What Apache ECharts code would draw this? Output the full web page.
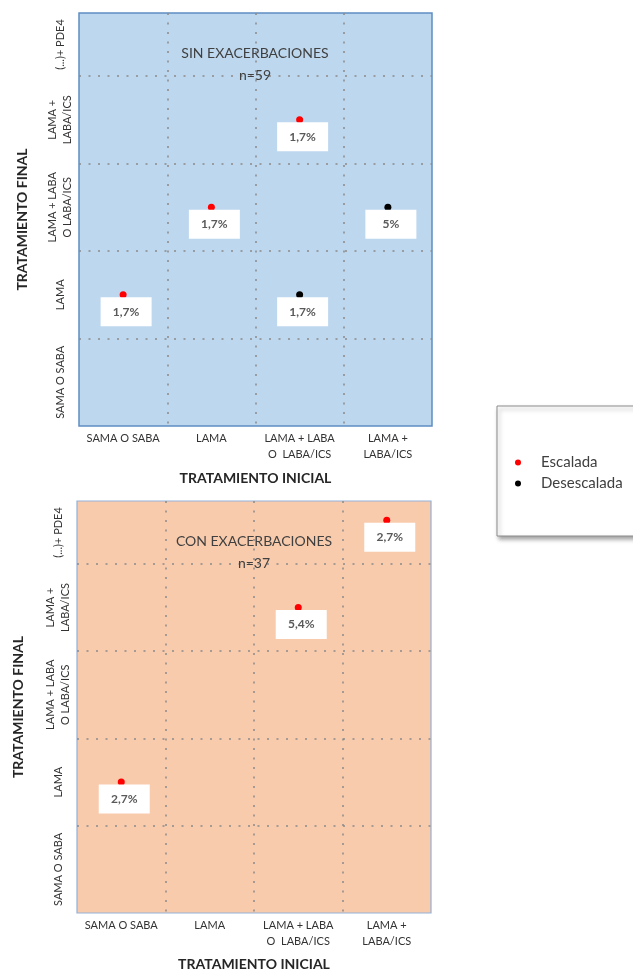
<!DOCTYPE html>
<html>
<head>
<meta charset="utf-8">
<script src="https://cdn.jsdelivr.net/npm/echarts@6/dist/echarts.min.js"></script>
<style>
html,body{margin:0;padding:0;background:#fff;}
#c{width:633px;height:972px;}
</style>
</head>
<body>
<div id="c"></div>
<script>
// Categories
var initialCats = ['SAMA O SABA', 'LAMA', 'LAMA + LABA\nO  LABA/ICS', 'LAMA +\nLABA/ICS'];
var finalCats = ['SAMA O SABA', 'LAMA', 'LAMA + LABA\nO LABA/ICS', 'LAMA +\nLABA/ICS', '(...)+ PDE4'];

// Panel titles
var panelTitles = ['SIN EXACERBACIONES\nn=59', 'CON EXACERBACIONES\nn=37'];

// Data: [initial category index, final category index, percentage label]
var sinEscalada = [[0, 1, '1,7%'], [1, 2, '1,7%'], [2, 3, '1,7%']];
var sinDesescalada = [[3, 2, '5%'], [2, 1, '1,7%']];
var conEscalada = [[0, 1, '2,7%'], [2, 3, '5,4%'], [3, 4, '2,7%']];
var conDesescalada = [];

var FONT = 'Lato, "Open Sans", sans-serif';
var YMAX = 4.72;
var topLabelPos = 4.36;

function toPts(arr) {
  return arr.map(function (d) { return [d[0] + 0.5, d[1] + 0.5, d[2]]; });
}

function xAxisCfg(gi) {
  return {
    type: 'value', gridIndex: gi, min: 0, max: 4, interval: 1,
    axisLine: { show: false }, axisTick: { show: false },
    splitLine: { show: true, showMinLine: false, showMaxLine: false,
      lineStyle: { type: [2, 7.5], color: '#8a8a8a', width: 1.5 } },
    axisLabel: {
      customValues: [0.5, 1.5, 2.5, 3.5],
      formatter: function (v) { return initialCats[Math.floor(v)]; },
      fontFamily: FONT, fontSize: 11, color: '#333', lineHeight: 16,
      verticalAlign: 'top', margin: 4
    },
    name: 'TRATAMIENTO INICIAL', nameLocation: 'middle', nameGap: gi === 0 ? 45 : 44,
    nameTextStyle: { fontFamily: FONT, fontSize: 14, fontWeight: 'bold', color: '#262626' }
  };
}
function yAxisCfg(gi) {
  return {
    type: 'value', gridIndex: gi, min: 0, max: YMAX, interval: 1,
    axisLine: { show: false }, axisTick: { show: false },
    splitLine: { show: true, showMinLine: false, showMaxLine: false,
      lineStyle: { type: [2, 7.5], color: '#8a8a8a', width: 1.5 } },
    axisLabel: {
      customValues: [0.5, 1.5, 2.5, 3.5, topLabelPos],
      formatter: function (v) { return finalCats[Math.min(4, Math.floor(v))]; },
      rotate: 90, align: 'center', verticalAlign: 'middle',
      fontFamily: FONT, fontSize: 11, color: '#333', lineHeight: 15, margin: 19
    },
    name: 'TRATAMIENTO FINAL', nameLocation: 'middle', nameGap: gi === 0 ? 50 : 52,
    nameTextStyle: { fontFamily: FONT, fontSize: 14, fontWeight: 'bold', color: '#262626' }
  };
}
function series(name, gi, arr, color) {
  return {
    type: 'scatter', name: name, xAxisIndex: gi, yAxisIndex: gi,
    data: toPts(arr), symbol: 'circle', symbolSize: 7,
    itemStyle: { color: color, opacity: 1 }, z: 5,
    label: {
      show: true, position: 'inside', offset: [3, 17],
      formatter: function (p) { return p.data[2]; },
      backgroundColor: '#ffffff', width: 51, height: 29, lineHeight: 29,
      align: 'center', verticalAlign: 'middle',
      fontFamily: FONT, fontSize: 12, fontWeight: 'bold', color: '#595959'
    }
  };
}

var chart = echarts.init(document.getElementById('c'), null, { renderer: 'canvas' });
chart.setOption({
  animation: false,
  backgroundColor: '#ffffff',
  title: [
    { text: panelTitles[0], left: 255, top: 42, padding: 0, textAlign: 'center',
      textStyle: { fontFamily: FONT, fontSize: 14, fontWeight: 'normal', color: '#404040', lineHeight: 22 } },
    { text: panelTitles[1], left: 254, top: 530, padding: 0, textAlign: 'center',
      textStyle: { fontFamily: FONT, fontSize: 14, fontWeight: 'normal', color: '#404040', lineHeight: 22 } }
  ],
  legend: {
    orient: 'vertical', left: 497, top: 406,
    padding: [49, 40, 45, 18], itemGap: 6,
    itemWidth: 36, itemHeight: 6, icon: 'circle',
    backgroundColor: '#ffffff', borderColor: '#8c8c8c', borderWidth: 1,
    shadowBlur: 4, shadowOffsetX: 2, shadowOffsetY: 3, shadowColor: 'rgba(0,0,0,0.35)',
    textStyle: { fontFamily: FONT, fontSize: 15, color: '#404040' },
    data: ['Escalada', 'Desescalada']
  },
  grid: [
    { left: 79, top: 13, width: 353, height: 413, show: true,
      backgroundColor: '#bdd7ee', borderColor: '#5f8dc2', borderWidth: 1.5 },
    { left: 77, top: 501, width: 354, height: 414, show: true,
      backgroundColor: '#f8cbad', borderColor: '#93b1d8', borderWidth: 1.2 }
  ],
  xAxis: [xAxisCfg(0), xAxisCfg(1)],
  yAxis: [yAxisCfg(0), yAxisCfg(1)],
  series: [
    series('Escalada', 0, sinEscalada, '#ff0000'),
    series('Desescalada', 0, sinDesescalada, '#000000'),
    series('Escalada', 1, conEscalada, '#ff0000'),
    series('Desescalada', 1, conDesescalada, '#000000')
  ]
});
</script>
</body>
</html>
